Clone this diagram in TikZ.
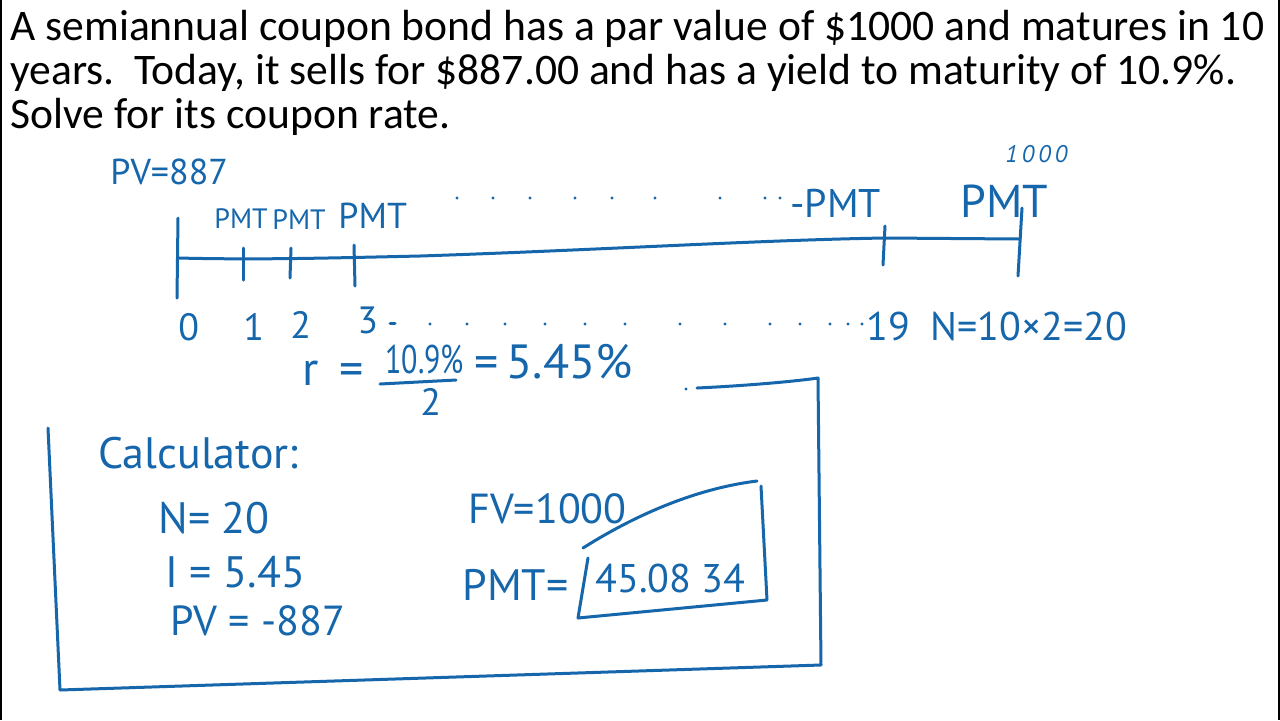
\documentclass[tikz,border=0pt]{standalone}
\usepackage{fontspec}
\setmainfont{Carlito}
\newfontfamily\hand{PT Sans}
\definecolor{ink}{RGB}{22,102,172}
\begin{document}
\begin{tikzpicture}[x=0.5pt,y=-0.5pt,
  hdr/.style={font=\fontsize{21.8}{22}\selectfont, inner sep=0pt, anchor=base west},
  hw/.style={text=ink, inner sep=0pt, anchor=base west, font=\hand\fontsize{#1}{#1}\selectfont},
  hw/.default=20,
  inkline/.style={draw=ink, line width=1.5pt, line cap=round, line join=round},
  dotmark/.style={fill=ink, draw=none}]
\useasboundingbox[fill=white] (0,0) rectangle (1280,720);
\fill[black] (0,0) rectangle (2,720);
\fill[black] (1278,0) rectangle (1280,720);
% header
\node[hdr] (h1) at (10,40) {A semiannual coupon bond has a par value of \$1000 and matures in 10};
\node[hdr] (h2) at (10,84) {years.\ \ Today, it sells for \$887.00 and has a yield to maturity of 10.9\%.};
\node[hdr] (h3) at (10,128) {Solve for its coupon rate.};
% timeline
\node[hw=18] (pv) at (110,184) {PV=887};
\draw[inkline] (178,258) .. controls (260,260) and (330,258) .. (420,256)
  .. controls (600,250) and (760,240) .. (885,238) -- (1020,239);
\draw[inkline] (178,218) -- (177,298);
\draw[inkline] (243,248) -- (243,280);
\draw[inkline] (291,248) -- (290,278);
\draw[inkline] (354,245) -- (355,286);
\draw[inkline] (885,226) -- (883,265);
\draw[inkline] (1022,208) -- (1018,276);
\node[hw=14] (p1) at (214,228) {PMT};
\node[hw=14] (p2) at (272,229) {PMT};
\node[hw=18] (p3) at (338,228) {PMT};
\foreach \x in {457,493,530,575,612,655,720,765,780}
  \fill[dotmark] (\x,198) circle (1.6);
\node[hw=20] (p19) at (790,217) {-PMT};
\node[hw=23] (p20) at (960,217) {PMT};
\node[hw=12] (fv) at (1005,162) {\itshape 1\,0\,0\,0};
% period labels
\node[hw=19] (t0) at (178,340) {0};
\node[hw=19] (t1) at (243,340) {1};
\node[hw=19] (t2) at (290,338) {2};
\node[hw=19] (t3) at (357,333) {3};
\draw[inkline] (390,323) -- (395,323);
\foreach \x in {430,467,505,545,585,625,680,725,770,800,830,848,862}
  \fill[dotmark] (\x,324) circle (1.6);
\node[hw=20] (t19) at (866,340) {19};
\node[hw=20] (nn) at (930,340) {N=10×2=20};
% rate
\node[hw=24] (r) at (302,385) {r\, =};
\node[hw=20] (num) at (385,373) {\scalebox{0.75}[1]{10.9\%}};
\draw[inkline] (380,384) -- (456,380);
\node[hw=19] (den) at (420,415) {2};
\node[hw=24] (rr) at (474,378) {=\,5.45\%};
% big box
\fill[dotmark] (686,389) circle (1.6);
\draw[inkline] (697,388) .. controls (740,386) and (790,382) .. (818,378)
  -- (821,665) -- (60,690) -- (48,428);
% calculator
\node[hw=22] (calc) at (98,468) {Calculator:};
\node[hw=22] (cn) at (158,533) {N= 20};
\node[hw=22] (ci) at (165,587) {I = 5.45};
\node[hw=21] (cpv) at (170,635) {PV = -887};
\node[hw=21] (cfv) at (468,523) {FV=1000};
\node[hw=22] (cpmt) at (462,600) {PMT=};
\draw[inkline] (588,558) -- (578,618) -- (767,600) -- (761,486);
\draw[inkline] (583,548) .. controls (640,512) and (700,488) .. (757,481);
\node[hw=20] (ans) at (595,592) {45.08 34};
\end{tikzpicture}
\end{document}
